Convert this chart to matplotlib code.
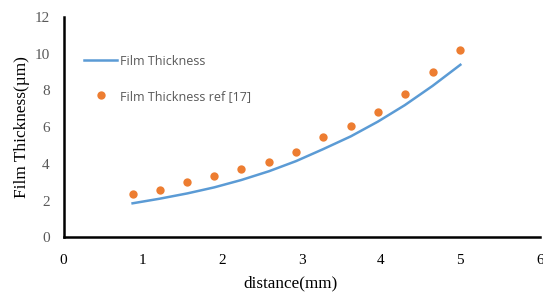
import numpy as np
import matplotlib.pyplot as plt

# -----------------------------
# DATA
# -----------------------------
distance = [0.87, 1.21, 1.56, 1.90, 2.24, 2.59, 2.93, 3.27, 3.62, 3.96, 4.30, 4.65, 5.00]
thickness = [1.85, 2.10, 2.39, 2.72, 3.12, 3.60, 4.15, 4.80, 5.50, 6.30, 7.20, 8.25, 9.40]
thickness_ref = [2.35, 2.60, 3.02, 3.36, 3.74, 4.10, 4.66, 5.48, 6.07, 6.84, 7.82, 9.01, 10.21]

x_ticks = [0, 1, 2, 3, 4, 5, 6]
y_ticks = [0, 2, 4, 6, 8, 10, 12]

# -----------------------------
# PLOT
# -----------------------------
fig = plt.figure(figsize=(5.43, 2.94), dpi=100)
ax = fig.add_axes([0.117, 0.193, 0.877, 0.749])

ax.plot(distance, thickness, color="#5B9BD5", lw=1.8, label="Film Thickness")
ax.plot(distance, thickness_ref, "o", color="#ED7D31", ms=6, mew=0,
        label="Film Thickness ref [17]")

ax.set_xlim(0, 6)
ax.set_ylim(0, 12)
ax.set_xticks(x_ticks)
ax.set_yticks(y_ticks)

for s in ["top", "right"]:
    ax.spines[s].set_visible(False)
for s in ["left", "bottom"]:
    ax.spines[s].set_linewidth(1.8)
    ax.spines[s].set_color("black")

ax.tick_params(length=0, pad=12)
ax.tick_params(axis="y", pad=10)
for lab in ax.get_xticklabels():
    lab.set_fontfamily("Liberation Serif")
    lab.set_fontsize(11)
    lab.set_color("black")
for lab in ax.get_yticklabels():
    lab.set_fontfamily("Liberation Serif")
    lab.set_fontsize(11)
    lab.set_color("#595959")

ax.set_xlabel("distance(mm)", family="Liberation Serif", fontsize=12.3)
ax.xaxis.set_label_coords(0.477, -0.175)
ax.set_ylabel("Film Thickness(µm)", family="Liberation Serif", fontsize=12.4, labelpad=3)

leg = ax.legend(loc="upper left", bbox_to_anchor=(0.02, 0.88), frameon=False,
                prop={"family": "Open Sans", "size": 9}, labelcolor="#595959",
                handlelength=2.6, handletextpad=0.25, labelspacing=1.75)

fig.savefig("out.png", dpi=100)
